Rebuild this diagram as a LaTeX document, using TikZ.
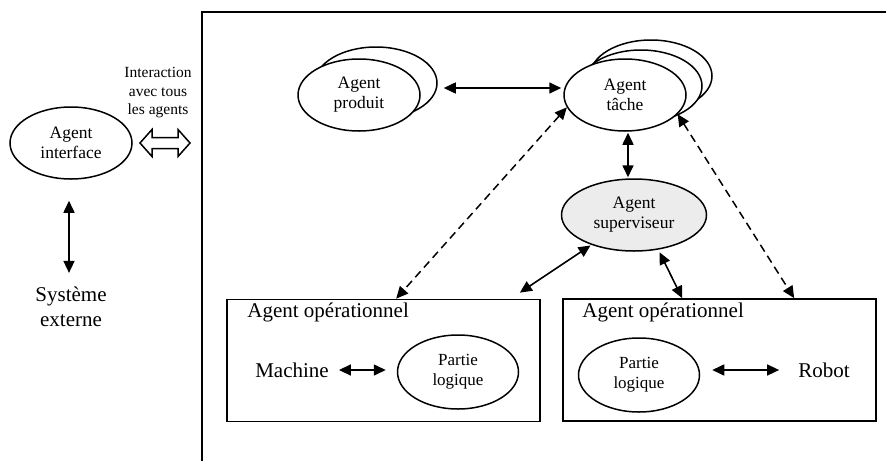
\documentclass[tikz,border=0pt]{standalone}
\usepackage{fontspec}
\setmainfont{Liberation Serif}
\usetikzlibrary{calc,shapes.geometric,arrows.meta}

\begin{document}
\begin{tikzpicture}[x=1pt,y=-1pt,
        agent/.style={ellipse,draw,line width=1.5pt,fill=white,minimum width=122pt,
            minimum height=72pt,inner sep=0pt,align=center,font=\fontsize{17.5}{20}\selectfont},
        partie/.style={agent,minimum width=121pt,minimum height=74pt,font=\fontsize{17}{20}\selectfont},
        opbox/.style={rectangle,draw,line width=1.7pt,minimum width=313pt,minimum height=122pt,inner sep=0pt},
        big/.style={font=\fontsize{21}{25}\selectfont,align=center,inner sep=0pt},
        arr/.style={{Triangle[length=12pt,width=11pt]}-{Triangle[length=12pt,width=11pt]},line width=1.6pt},
        darr/.style={arr,line width=1.5pt,dash pattern=on 8pt off 5pt}]
                \useasboundingbox (0,0) rectangle (886,461);
                \draw[line width=1.7pt] (886,12) -- (202,12) -- (202,461);
                % interface
                \node[agent] (iface) at (71,143) {Agent\\interface};
                \node[big] (sys) at (71,307) {Système\\externe};
                \node[align=center,inner sep=0pt,font=\fontsize{15.5}{18.5}\selectfont] (inter) at (158,93) {Interaction\\avec tous\\les agents};
                \coordinate (dbl) at (165,143);
                \draw[line width=1.5pt] ($(dbl)+(-25,0)$) -- ++(12,-13.5) -- ++(0,8) -- ++(26,0) -- ++(0,-8)
                    -- ++(12,13.5) -- ++(-12,13.5) -- ++(0,-8) -- ++(-26,0) -- ++(0,8) -- cycle;
                \draw[arr,shorten <=21pt,shorten >=14pt] ([xshift=-2pt]iface.south) -- ([xshift=-2pt]sys.north);
                % agents
                \node[agent] (prodB) at (376,83) {};
                \node[agent] (prod) at (359,95) {Agent\\produit};
                \node[agent] (tacheC) at (651,76) {};
                \node[agent] (tacheB) at (641,86) {};
                \node[agent] (tache) at (625,95) {Agent\\tâche};
                \node[agent,fill=gray!15,minimum width=145pt] (superv) at (634,215) {Agent\\superviseur};
                % operationnels
                \node[opbox] (opA) at (383.5,360.5) {};
                \node[opbox] (opB) at (719.5,360) {};
                \node[big,anchor=west] (titA) at ([xshift=21pt,yshift=-14pt]opA.north west) {Agent opérationnel};
                \node[big,anchor=west] (titB) at ([xshift=20pt,yshift=-14pt]opB.north west) {Agent opérationnel};
                \node[big] (mach) at (292,370) {Machine};
                \node[partie] (logA) at (458,372) {Partie\\logique};
                \node[partie] (logB) at (639,375) {Partie\\logique};
                \node[big] (robot) at (824,370) {Robot};
                \draw[arr,shorten <=10pt,shorten >=11pt] (mach.east) -- (mach.east -| logA.west);
                \draw[arr,shorten <=12pt,shorten >=19pt] (logB.east |- robot.west) -- (robot.west);
                % liens
                \draw[arr] ([shift={(6pt,-5pt)}]prodB.east) -- ([shift={(-2pt,7pt)}]tache.west);
                \draw[arr] ([xshift=3pt,yshift=-1pt]tache.south) -- ([xshift=-6pt,yshift=1pt]superv.north);
                \draw[arr,shorten <=1pt] (superv.215) -- ([xshift=-21pt,yshift=6pt]opA.north east);
                \draw[arr,shorten <=3pt] (superv.-55) -- ([xshift=120pt]opB.north west);
                %\draw[arr] (superv) -- (opB);
                \draw[darr] (tache.192) -- ([xshift=170pt]opA.north west);
                \draw[darr] (tache.-20) -- ([xshift=232pt]opB.north west);
\end{tikzpicture}
\end{document}
